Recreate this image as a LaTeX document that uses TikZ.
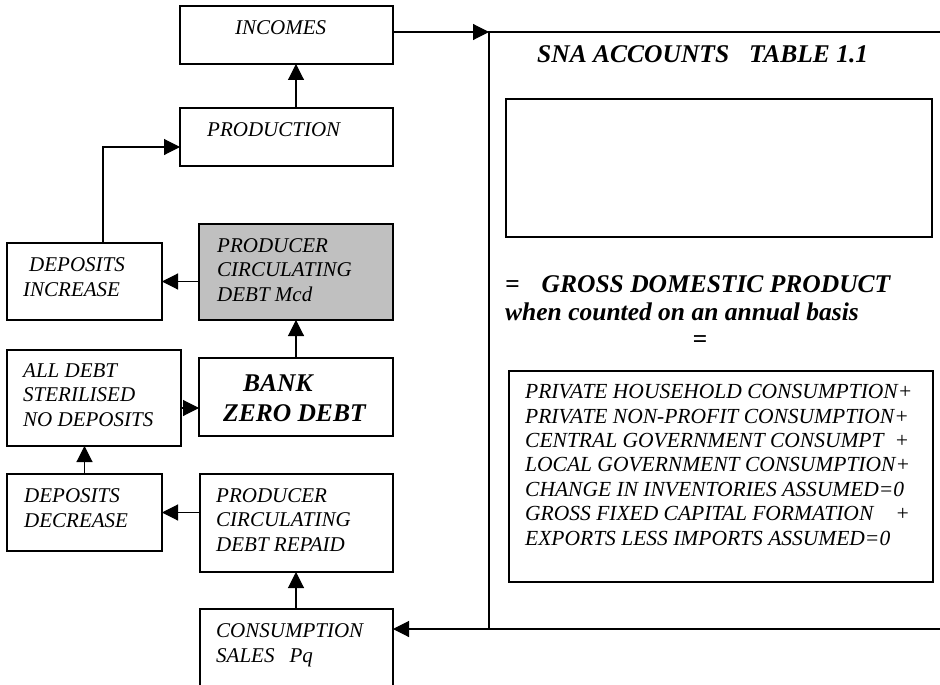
\documentclass[tikz,border=0pt]{standalone}
\usepackage{fontspec}
\setmainfont{Liberation Serif}
\usetikzlibrary{arrows.meta}
\definecolor{shade}{HTML}{C0C0C0}
\begin{document}
\begin{tikzpicture}[x=1pt,y=-1pt,
  box/.style={draw, line width=1.1pt, anchor=north west, inner sep=0pt, outer sep=0pt},
  lab/.style={anchor=base west, inner sep=0pt, align=left,
    font=\itshape\fontsize{21}{24.2}\selectfont},
  blab/.style={anchor=base west, inner sep=0pt, align=left,
    font=\bfseries\itshape\fontsize{25.5}{30}\selectfont},
  arr/.style={line width=1.1pt, -{Triangle[length=16pt,width=16pt]}},
  link/.style={line width=1.1pt}]
\useasboundingbox (0,0) rectangle (940,685);
\clip (0,0) rectangle (940,685);

% guide coordinates for connectors that do not run through box centres
\coordinate (colA) at (296,0);
\coordinate (elbow) at (103,147);
\coordinate (rowB) at (0,408);
\coordinate (panelTL) at (489,32);
\coordinate (panelBL) at (489,629);
\coordinate (panelTR) at (950,32);
\coordinate (panelBR) at (950,629);

% left-hand flow boxes
\node[box, minimum width=213pt, minimum height=58pt] (inc) at (180,6) {};
\node[box, minimum width=213pt, minimum height=58pt] (prod) at (180,108) {};
\node[box, minimum width=155pt, minimum height=77pt] (depinc) at (7,243) {};
\node[box, fill=shade, minimum width=194pt, minimum height=96pt] (mcd) at (199,224) {};
\node[box, minimum width=174pt, minimum height=96pt] (alldebt) at (7,350) {};
\node[box, minimum width=194pt, minimum height=78pt] (bank) at (199,358) {};
\node[box, minimum width=155pt, minimum height=77pt] (depdec) at (7,474) {};
\node[box, minimum width=193pt, minimum height=98pt] (repaid) at (200,474) {};
\node[box, minimum width=193pt, minimum height=110pt] (cons) at (200,609) {};

% box texts (a multi-line node sits on the baseline of its last line)
\node[lab] (incT) at (235,35) {INCOMES};
\node[lab] (prodT) at (207,136) {PRODUCTION};
\node[lab] (depincT) at (23,296) {\hspace*{6pt}DEPOSITS\\INCREASE};
\node[lab] (mcdT) at (217,301) {PRODUCER\\CIRCULATING\\DEBT Mcd};
\node[lab] (alldebtT) at (23,426) {ALL DEBT\\STERILISED\\NO DEPOSITS};
\node[blab] (bankT) at (223,421) {\hspace*{20pt}BANK\\ZERO DEBT};
\node[lab] (depdecT) at (24,527) {DEPOSITS\\DECREASE};
\node[lab] (repaidT) at (216,551) {PRODUCER\\CIRCULATING\\DEBT REPAID};
\node[lab] (consT) at (216,662) {CONSUMPTION\\SALES\hspace{15pt}Pq};

% connectors
\draw[arr] (colA |- prod.north) -- (colA |- inc.south);
\draw[arr] (elbow |- depinc.north) -- (elbow) -- (elbow -| prod.west);
\draw[arr] (mcd.west |- depinc.east) -- (depinc.east);
\draw[arr] (colA |- bank.north) -- (colA |- mcd.south);
\draw[arr] (alldebt.east |- rowB) -- (bank.west |- rowB);
\draw[arr] (depdec.north) -- (depdec.north |- alldebt.south);
\draw[arr] (repaid.west |- depdec.east) -- (depdec.east);
\draw[arr] (colA |- cons.north) -- (colA |- repaid.south);

% SNA accounts panel
\draw[link] (panelTR) -- (panelTL) -- (panelBL) -- (panelBR);
\draw[arr] (inc.east |- panelTL) -- (panelTL);
\draw[arr] (panelBL) -- (cons.east |- panelBL);

\node[blab] (snaT) at (537,63) {SNA ACCOUNTS\hspace{20pt}TABLE 1.1};
\node[box, line width=1.7pt, minimum width=426pt, minimum height=138pt] (blank) at (506,99) {};
\node[blab] (gdpT) at (505,292) {=\hspace{22pt}GROSS DOMESTIC PRODUCT};
\node[blab] (whenT) at (505,320) {when counted on an annual basis};
\node[blab, anchor=base] (eqT) at (700,347) {=};
\node[box, line width=1.2pt, minimum width=424pt, minimum height=211pt] (sumbox) at (509,371) {};
\node[lab, font=\itshape\fontsize{21.5}{24.4}\selectfont] (sumT) at (525,545) {%
  PRIVATE HOUSEHOLD CONSUMPTION+\\
  PRIVATE NON-PROFIT CONSUMPTION+\\
  CENTRAL GOVERNMENT CONSUMPT\hspace{11pt}+\\
  LOCAL GOVERNMENT CONSUMPTION+\\
  CHANGE IN INVENTORIES ASSUMED=0\\
  GROSS FIXED CAPITAL FORMATION\hspace{22pt}+\\
  EXPORTS LESS IMPORTS ASSUMED=0};
\end{tikzpicture}
\end{document}
